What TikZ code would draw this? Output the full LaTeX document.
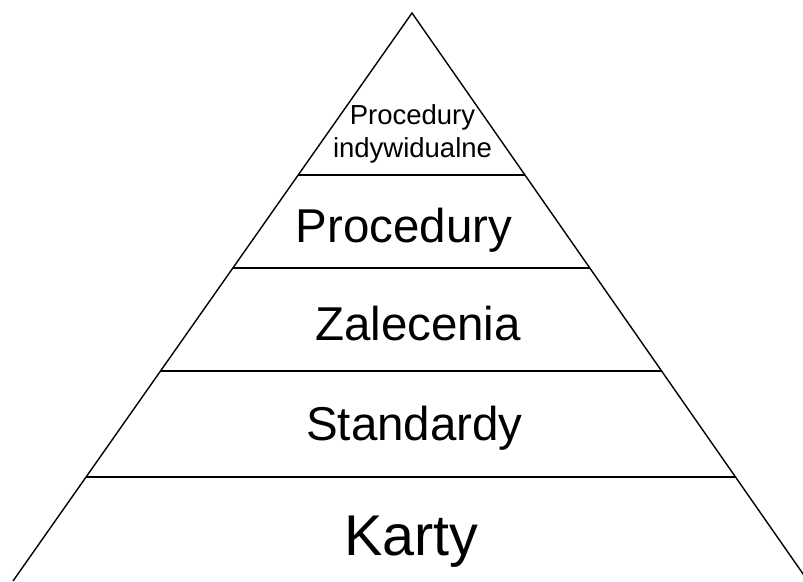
\documentclass[tikz,border=0pt]{standalone}
\usepackage{fontspec}
\setmainfont{Liberation Sans}
\usetikzlibrary{calc}
\begin{document}
\begin{tikzpicture}[x=1pt,y=-1pt,
  edge/.style={line width=1.4pt,black},
  level/.style={line width=1.6pt,black},
  lbl/.style={anchor=base,inner sep=0pt,font=#1}]
\useasboundingbox (0,0) rectangle (803,581);
\clip (0,0) rectangle (803,581);
\coordinate (apex) at (412,13);
\coordinate (lb) at (13,581);
\coordinate (rb) at (808,581);
\draw[edge] (lb) -- (apex) -- (rb);
\foreach \f/\n in {0.2852/a,0.4489/b,0.6303/c,0.8169/d}{
  \coordinate (L\n) at ($(apex)!\f!(lb)$);
  \coordinate (R\n) at ($(apex)!\f!(rb)$);
  \draw[level] (L\n) -- (R\n);
}
\node[lbl={\fontsize{27.5}{30}\selectfont}] (t1) at (412.5,124) {Procedury};
\node[lbl={\fontsize{27.5}{30}\selectfont}] (t2) at (412.5,157) {indywidualne};
\node[lbl={\fontsize{47.5}{52}\selectfont}] (t3) at (404,242) {Procedury};
\node[lbl={\fontsize{47.5}{52}\selectfont}] (t4) at (418,340) {Zalecenia};
\node[lbl={\fontsize{47.5}{52}\selectfont}] (t5) at (414.5,440) {Standardy};
\node[lbl={\fontsize{57.5}{62}\selectfont}] (t6) at (411.5,555) {Karty};
\end{tikzpicture}
\end{document}
